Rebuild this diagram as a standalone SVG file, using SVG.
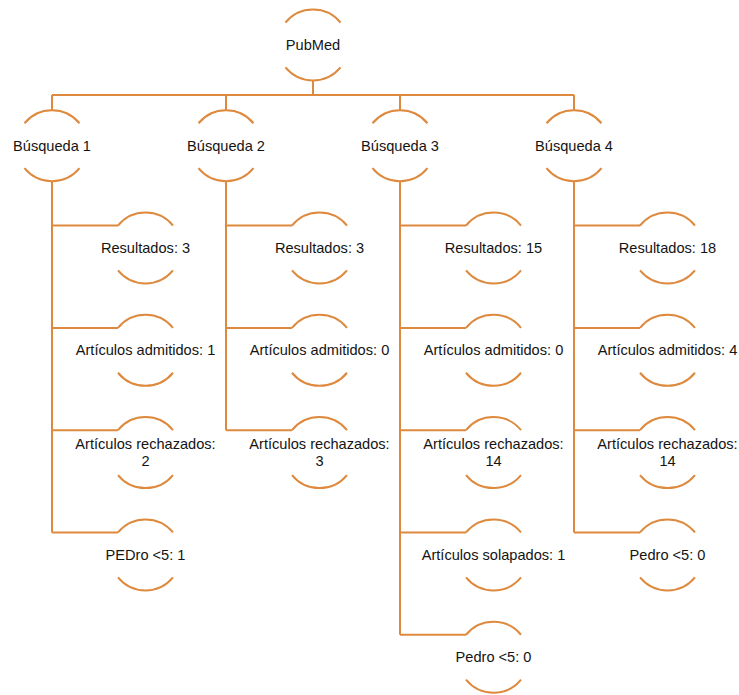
<svg xmlns="http://www.w3.org/2000/svg" width="739" height="695" viewBox="0 0 739 695">
<defs>
<style>
.arc{fill:none;stroke:#DE8A3E;stroke-width:2}
.ln{fill:none;stroke:#DE8A3E;stroke-width:2}
text{font-family:"Liberation Sans",Arial,sans-serif;font-size:14.6px;fill:#141414;text-anchor:middle}
</style>
<g id="nodeShape">
<path class="arc" d="M-27.5,-22.45 A35.5,35.5 0 0 1 27.5,-22.45"/>
<path class="arc" d="M-27.5,22.45 A35.5,35.5 0 0 0 27.5,22.45"/>
</g>
</defs>
<rect width="739" height="695" fill="#fff"/>
<g id="connectors">
<path class="ln" d="M313,80.5 V95 M52,95 H574 M52,95 V110.2 M226,95 V110.2 M400,95 V110.2 M574,95 V110.2"/>
<path class="ln" d="M52,181.2 V532.4 M52,225.5 H118 M52,327.9 H118 M52,430.2 H118 M52,532.4 H118"/>
<path class="ln" d="M226,181.2 V430.2 M226,225.5 H292 M226,327.9 H292 M226,430.2 H292"/>
<path class="ln" d="M400,181.2 V634.8 M400,225.5 H466 M400,327.9 H466 M400,430.2 H466 M400,532.4 H466 M400,634.8 H466"/>
<path class="ln" d="M574,181.2 V532.4 M574,225.5 H640 M574,327.9 H640 M574,430.2 H640 M574,532.4 H640"/>
</g>
<g id="pubmed"><use href="#nodeShape" x="313" y="45"/><text x="313" y="50">PubMed</text></g>
<g id="b1"><use href="#nodeShape" x="52" y="145.7"/><text x="52" y="150.7">Búsqueda 1</text></g>
<g id="b2"><use href="#nodeShape" x="226" y="145.7"/><text x="226" y="150.7">Búsqueda 2</text></g>
<g id="b3"><use href="#nodeShape" x="400" y="145.7"/><text x="400" y="150.7">Búsqueda 3</text></g>
<g id="b4"><use href="#nodeShape" x="574" y="145.7"/><text x="574" y="150.7">Búsqueda 4</text></g>

<g id="b1r"><use href="#nodeShape" x="145.5" y="248"/><text x="145.5" y="253">Resultados: 3</text></g>
<g id="b1a"><use href="#nodeShape" x="145.5" y="350.3"/><text x="145.5" y="355.3">Artículos admitidos: 1</text></g>
<g id="b1c"><use href="#nodeShape" x="145.5" y="452.6"/><text x="145.5" y="448.6">Artículos rechazados:</text><text x="145.5" y="465.6">2</text></g>
<g id="b1p"><use href="#nodeShape" x="145.5" y="554.9"/><text x="145.5" y="559.9">PEDro &lt;5: 1</text></g>

<g id="b2r"><use href="#nodeShape" x="319.5" y="248"/><text x="319.5" y="253">Resultados: 3</text></g>
<g id="b2a"><use href="#nodeShape" x="319.5" y="350.3"/><text x="319.5" y="355.3">Artículos admitidos: 0</text></g>
<g id="b2c"><use href="#nodeShape" x="319.5" y="452.6"/><text x="319.5" y="448.6">Artículos rechazados:</text><text x="319.5" y="465.6">3</text></g>

<g id="b3r"><use href="#nodeShape" x="493.5" y="248"/><text x="493.5" y="253">Resultados: 15</text></g>
<g id="b3a"><use href="#nodeShape" x="493.5" y="350.3"/><text x="493.5" y="355.3">Artículos admitidos: 0</text></g>
<g id="b3c"><use href="#nodeShape" x="493.5" y="452.6"/><text x="493.5" y="448.6">Artículos rechazados:</text><text x="493.5" y="465.6">14</text></g>
<g id="b3s"><use href="#nodeShape" x="493.5" y="554.9"/><text x="493.5" y="559.9">Artículos solapados: 1</text></g>
<g id="b3p"><use href="#nodeShape" x="493.5" y="657.2"/><text x="493.5" y="662.2">Pedro &lt;5: 0</text></g>

<g id="b4r"><use href="#nodeShape" x="667.5" y="248"/><text x="667.5" y="253">Resultados: 18</text></g>
<g id="b4a"><use href="#nodeShape" x="667.5" y="350.3"/><text x="667.5" y="355.3">Artículos admitidos: 4</text></g>
<g id="b4c"><use href="#nodeShape" x="667.5" y="452.6"/><text x="667.5" y="448.6">Artículos rechazados:</text><text x="667.5" y="465.6">14</text></g>
<g id="b4p"><use href="#nodeShape" x="667.5" y="554.9"/><text x="667.5" y="559.9">Pedro &lt;5: 0</text></g>
</svg>
